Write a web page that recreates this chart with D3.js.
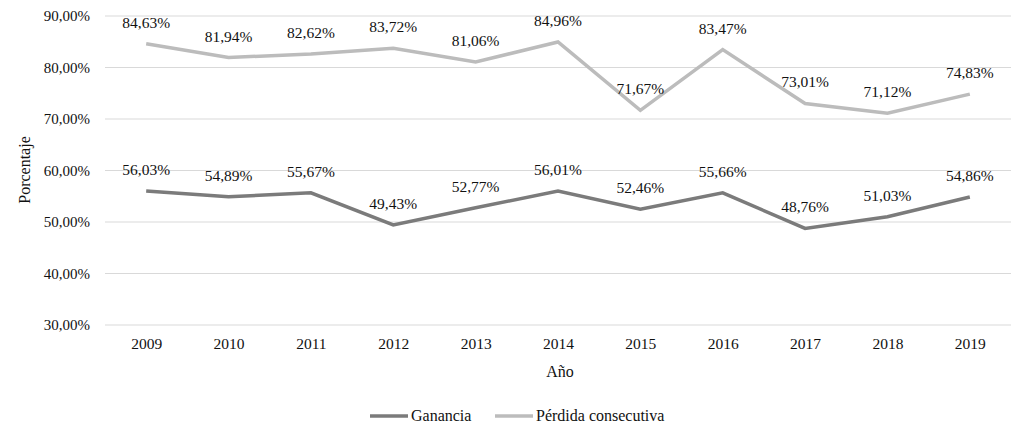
<!DOCTYPE html>
<html>
<head>
<meta charset="utf-8">
<script src="https://cdn.jsdelivr.net/npm/d3@7"></script>
<style>
  html, body { margin: 0; padding: 0; background: #fff; }
  svg { display: block; }
  svg text { font-family: "Liberation Serif", "Times New Roman", serif !important; fill: #111; }
</style>
</head>
<body>
<svg id="chart" width="1013" height="427"></svg>
<script>
const years = ["2009","2010","2011","2012","2013","2014","2015","2016","2017","2018","2019"];
const ganancia = [56.03, 54.89, 55.67, 49.43, 52.77, 56.01, 52.46, 55.66, 48.76, 51.03, 54.86];
const perdida = [84.63, 81.94, 82.62, 83.72, 81.06, 84.96, 71.67, 83.47, 73.01, 71.12, 74.83];
const yTicks = [30, 40, 50, 60, 70, 80, 90];
const seriesNames = ["Ganancia", "Pérdida consecutiva"];
const seriesColors = ["#7b7b7b", "#bcbcbc"];

const svg = d3.select("#chart");
const mLeft = 105, mRight = 1011, mTop = 16, mBottom = 325;

const x = d3.scalePoint().domain(years).range([mLeft, mRight]).padding(0.5);
const y = d3.scaleLinear().domain([30, 90]).range([mBottom, mTop]);

const fmt = v => v.toFixed(2).replace(".", ",") + "%";

// gridlines
svg.append("g").selectAll("line").data(yTicks).join("line")
  .attr("x1", mLeft).attr("x2", mRight)
  .attr("y1", d => y(d)).attr("y2", d => y(d))
  .attr("stroke", "#d9d9d9").attr("stroke-width", 1);

// y axis
const yAxis = svg.append("g").attr("transform", `translate(${mLeft},0)`)
  .call(d3.axisLeft(y).tickValues(yTicks).tickSize(0).tickPadding(15).tickFormat(d => fmt(d)));
yAxis.select(".domain").remove();
yAxis.attr("font-family", null);
yAxis.selectAll("text").style("font-size", "15px");

// x axis
const xAxis = svg.append("g").attr("transform", `translate(0,${mBottom})`)
  .call(d3.axisBottom(x).tickSize(0).tickPadding(13));
xAxis.select(".domain").remove();
xAxis.attr("font-family", null);
xAxis.selectAll("text").style("font-size", "15.5px");

// axis titles
svg.append("text").attr("x", 560).attr("y", 377).attr("text-anchor", "middle")
  .style("font-size", "16px").text("Año");
svg.append("text").attr("transform", "translate(30,170) rotate(-90)").attr("text-anchor", "middle")
  .style("font-size", "16px").text("Porcentaje");

const line = d3.line().x((d, i) => x(years[i])).y(d => y(d));
const allSeries = [ganancia, perdida];

allSeries.forEach((s, k) => {
  svg.append("path").datum(s).attr("d", line)
    .attr("fill", "none").attr("stroke", seriesColors[k]).attr("stroke-width", 3.5)
    .attr("stroke-linejoin", "miter");
  svg.append("g").selectAll("text").data(s).join("text")
    .attr("x", (d, i) => x(years[i]))
    .attr("y", d => y(d) - 16)
    .attr("text-anchor", "middle")
    .style("font-size", "15.5px")
    .text(d => fmt(d));
});

// legend
const legendItems = [{x: 370, name: seriesNames[0], color: seriesColors[0]}, {x: 495, name: seriesNames[1], color: seriesColors[1]}];
legendItems.forEach(it => {
  svg.append("line").attr("x1", it.x).attr("x2", it.x + 38).attr("y1", 416).attr("y2", 416)
    .attr("stroke", it.color).attr("stroke-width", 3.5);
  svg.append("text").attr("x", it.x + 41).attr("y", 421).style("font-size", "16px").text(it.name);
});
</script>
</body>
</html>
